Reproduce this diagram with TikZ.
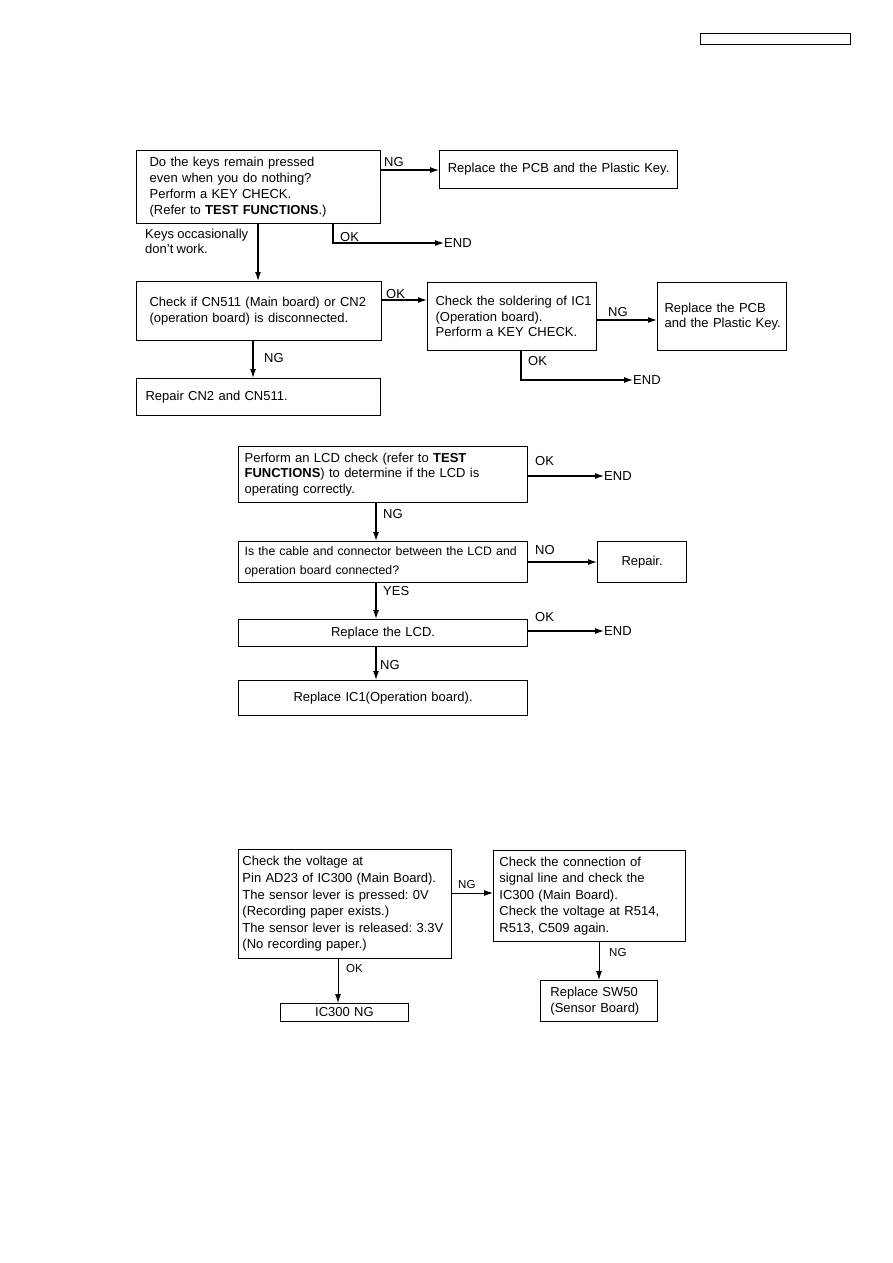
\documentclass[tikz,border=0pt]{standalone}
\usepackage{fontspec}
\setmainfont{Liberation Sans}[WordSpace=0.9]
\frenchspacing
\usetikzlibrary{arrows.meta,positioning}
\newcommand{\tl}[1]{\mbox{#1}}
\begin{document}
\begin{tikzpicture}[x=1pt,y=-1pt,
  box/.style={draw,line width=1.2pt,anchor=north west,inner ysep=0pt,font=\fontsize{13}{15.7}\selectfont},
  thinbox/.style={draw,line width=0.9pt,anchor=north west,inner ysep=0pt,font=\fontsize{13}{16.6}\selectfont},
  arr/.style={line width=1.2pt,-{Latex[length=9pt,width=6pt]}},
  thinarr/.style={line width=0.9pt,-{Latex[length=9pt,width=6pt]}},
  lbl/.style={inner sep=0pt,font=\fontsize{13}{15}\selectfont},
  slbl/.style={inner sep=0pt,font=\fontsize{11.5}{13}\selectfont}]
\useasboundingbox (0,0) rectangle (893,1263);
% header box
\node[draw,line width=0.8pt,anchor=north west,minimum width=150pt,minimum height=11pt,inner sep=0pt] (hdr) at (700,33) {};

% Section 1
\node[box,text width=218pt,inner xsep=13pt,minimum height=73pt,align=left] (A) at (136,150)
 {\tl{Do the keys remain pressed}\\\tl{even when you do nothing?}\\\tl{Perform a KEY CHECK.}\\\tl{(Refer to \textbf{TEST FUNCTIONS}.)}};
\node[box,text width=230pt,inner xsep=4pt,minimum height=38pt,align=center] (B) at (439,150)
 {\tl{Replace the PCB and the Plastic Key.}};
\node[lbl,anchor=west] (endA) at (444,243) {END};
\node[box,text width=219pt,inner xsep=13pt,minimum height=59pt,align=left] (C) at (136,281)
 {\tl{Check if CN511 (Main board) or CN2}\\\tl{(operation board) is disconnected.}};
\node[box,text width=153pt,inner xsep=8pt,minimum height=68pt,align=left] (D) at (427,282)
 {\tl{Check the soldering of IC1}\\\tl{(Operation board).}\\\tl{Perform a KEY CHECK.}};
\node[box,text width=115pt,inner xsep=7pt,minimum height=68pt,align=left] (E) at (657,282)
 {\tl{Replace the PCB}\\\tl{and the Plastic Key.}};
\node[lbl,anchor=west] (endD) at (633,380) {END};
\node[box,text width=226pt,inner xsep=9pt,minimum height=37pt,align=left] (F) at (136,378)
 {\tl{Repair CN2 and CN511.}};

\draw[arr] ([yshift=-20pt]A.north east) -- ([yshift=-20pt]B.north west);
\node[lbl,anchor=south west] at (384,167) {NG};
\draw[arr] ([xshift=197pt]A.south west) |- (endA.west);
\node[lbl,anchor=south west] at (340,242) {OK};
\node[lbl,anchor=north west,align=left] at (145,229) {Keys occasionally\\don't work.};
\draw[arr] ([xshift=122pt]A.south west) -- ([xshift=122pt]C.north west);
\draw[arr] ([yshift=-19pt]C.north east) -- ([yshift=-18pt]D.north west);
\node[lbl,anchor=south west] at (386,299) {OK};
\draw[arr] ([yshift=-38pt]D.north east) -- ([yshift=-38pt]E.north west);
\node[lbl,anchor=south west] at (608,317) {NG};
\draw[arr] ([xshift=94pt]D.south west) |- (endD.west);
\node[lbl,anchor=south west] at (528,366) {OK};
\draw[arr] ([xshift=117pt]C.south west) -- ([xshift=117pt]F.north west);
\node[lbl,anchor=west] at (264,358) {NG};

% Section 2
\node[box,text width=277pt,inner xsep=6pt,minimum height=56pt,align=left] (G) at (238,446)
 {\tl{Perform an LCD check (refer to \textbf{TEST}}\\\tl{\textbf{FUNCTIONS}) to determine if the LCD is}\\\tl{operating correctly.}};
\node[lbl,anchor=west] (endG) at (604,476) {END};
\node[box,text width=277pt,inner xsep=6pt,minimum height=41pt,align=left,font=\fontsize{12.3}{19}\selectfont] (H) at (238,541)
 {\tl{Is the cable and connector between the LCD and}\\\tl{operation board connected?}};
\node[box,text width=81pt,inner xsep=4pt,minimum height=41pt,align=center] (I) at (597,541) {Repair.};
\node[box,text width=281pt,inner xsep=4pt,minimum height=27pt,align=center] (J) at (238,619) {Replace the LCD.};
\node[lbl,anchor=west] (endJ) at (604,631) {END};
\node[box,text width=281pt,inner xsep=4pt,minimum height=35pt,align=center] (K) at (238,680) {Replace IC1(Operation board).};

\draw[arr] ([yshift=-30pt]G.north east) -- (endG.west);
\node[lbl,anchor=south west] at (535,466) {OK};
\draw[arr] ([xshift=138pt]G.south west) -- ([xshift=138pt]H.north west);
\node[lbl,anchor=west] at (383,514) {NG};
\draw[arr] ([yshift=-21pt]H.north east) -- ([yshift=-21pt]I.north west);
\node[lbl,anchor=south west] at (535,555) {NO};
\draw[arr] ([xshift=138pt]H.south west) -- ([xshift=138pt]J.north west);
\node[lbl,anchor=west] at (383,591) {YES};
\draw[arr] ([yshift=-12pt]J.north east) -- (endJ.west);
\node[lbl,anchor=south west] at (535,622) {OK};
\draw[arr] ([xshift=138pt]J.south west) -- ([xshift=138pt]K.north west);
\node[lbl,anchor=west] at (380,665) {NG};

% Section 3
\node[thinbox,text width=205pt,inner xsep=4pt,minimum height=109pt,align=left] (L) at (238,849)
 {\tl{Check the voltage at}\\\tl{Pin AD23 of IC300 (Main Board).}\\\tl{The sensor lever is pressed: 0V}\\\tl{(Recording paper exists.)}\\\tl{The sensor lever is released: 3.3V}\\\tl{(No recording paper.)}};
\node[thinbox,text width=180pt,inner xsep=6pt,minimum height=91pt,align=left] (M) at (493,850)
 {\tl{Check the connection of}\\\tl{signal line and check the}\\\tl{IC300 (Main Board).}\\\tl{Check the voltage at R514,}\\\tl{R513, C509 again.}};
\node[thinbox,text width=97pt,inner xsep=10pt,minimum height=41pt,align=left] (N) at (540,980)
 {\tl{Replace SW50}\\\tl{(Sensor Board)}};
\node[thinbox,text width=120pt,inner xsep=4pt,minimum height=18pt,align=center] (O) at (280,1003) {IC300 NG};

\draw[thinarr] ([yshift=-44pt]L.north east) -- ([yshift=-43pt]M.north west);
\node[slbl,anchor=south west] at (458,889) {NG};
\draw[thinarr] ([xshift=106pt]M.south west) -- ([xshift=59pt]N.north west);
\node[slbl,anchor=west] at (609,953) {NG};
\draw[thinarr] ([xshift=100pt]L.south west) -- ([xshift=58pt]O.north west);
\node[slbl,anchor=west] at (346,969) {OK};
\end{tikzpicture}
\end{document}
